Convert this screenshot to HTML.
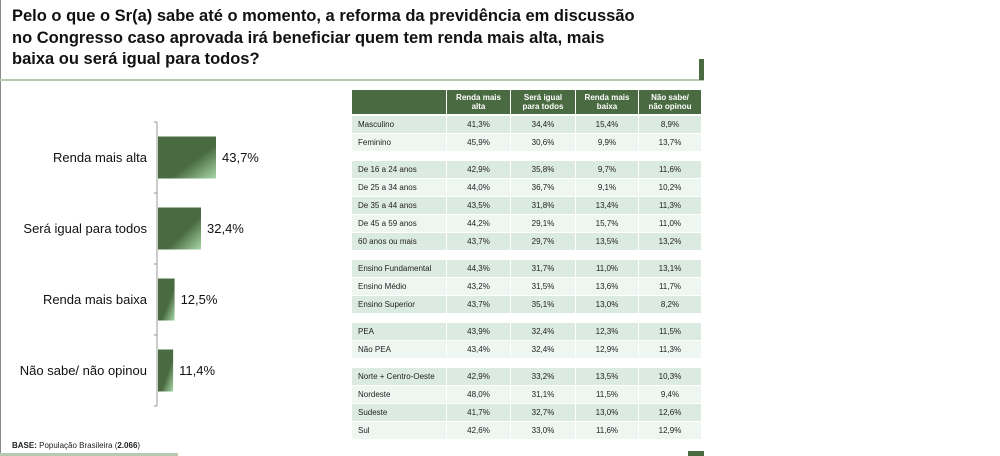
<!DOCTYPE html>
<html><head><meta charset="utf-8"><style>
body{margin:0;width:1000px;height:456px;background:#fff;overflow:hidden;font-family:"Liberation Sans",sans-serif;position:relative}
.title{position:absolute;left:12px;top:6px;font-size:16.5px;font-weight:bold;line-height:21.5px;color:#111;width:690px}
</style></head><body>
<div style="position:absolute;left:0;top:0;width:1px;height:456px;background:#888"></div>
<div class="title">Pelo o que o Sr(a) sabe até o momento, a reforma da previdência em discussão<br>no Congresso caso aprovada irá beneficiar quem tem renda mais alta, mais<br>baixa ou será igual para todos?</div>
<div style="position:absolute;left:0;top:79px;width:704px;height:2px;background:#b7c9b0"></div>
<div style="position:absolute;left:699px;top:59px;width:5px;height:21px;background:#4a6b41"></div>
<div style="position:absolute;left:0;top:453px;width:178px;height:3px;background:#b7c9b0"></div>
<div style="position:absolute;left:688px;top:451px;width:16px;height:5px;background:#4a6b41"></div>
<svg id="bars" width="360" height="440" style="position:absolute;left:0;top:0">
<defs><linearGradient id="g" x1="0" y1="0" x2="1" y2="1"><stop offset="0.6" stop-color="#4a6b41"/><stop offset="1" stop-color="#a8d8a8"/></linearGradient></defs>
</svg>
<div style="position:absolute;left:12px;top:441px;font-size:8px;color:#222"><b>BASE:</b> População Brasileira (<b>2.066</b>)</div>
<div id="tbl"></div>
<script>
const categories=["Renda mais alta","Será igual para todos","Renda mais baixa","Não sabe/ não opinou"];
const values=[43.7,32.4,12.5,11.4];
const valueLabels=["43,7%","32,4%","12,5%","11,4%"];
const NS="http://www.w3.org/2000/svg";
const svg=document.getElementById('bars');
const x0=158,top0=122,band=71,scale=58/43.7;
const xs=v=>x0+v*scale;
function mk(t,a){const e=document.createElementNS(NS,t);for(const k in a)e.setAttribute(k,a[k]);svg.appendChild(e);return e;}
const ax=mk('line',{x1:x0-1,y1:top0,x2:x0-1,y2:top0+band*categories.length,stroke:'#999','stroke-width':1});


for(let i=0;i<=categories.length;i++){const t=mk('line',{x1:x0-4,x2:x0-1,y1:top0+band*i,y2:top0+band*i,stroke:'#999'});

}
categories.forEach((c,i)=>{
 const yc=top0+band*i+band/2;
 const r=mk('rect',{x:x0,y:yc-21,width:xs(values[i])-x0,height:42,fill:'url(#g)'});
 
 
 const l=mk('text',{x:147,y:yc+4.5,'text-anchor':'end','font-size':13,fill:'#111'});l.textContent=c;
 
 
 const v=mk('text',{x:xs(values[i])+6,y:yc+4.5,'font-size':13,fill:'#111'});v.textContent=valueLabels[i];
 
 
});
const headers=["Renda mais alta","Será igual para todos","Renda mais baixa","Não sabe/ não opinou"];
const groups=[
 [["Masculino","41,3%","34,4%","15,4%","8,9%"],["Feminino","45,9%","30,6%","9,9%","13,7%"]],
 [["De 16 a 24 anos","42,9%","35,8%","9,7%","11,6%"],["De 25 a 34 anos","44,0%","36,7%","9,1%","10,2%"],["De 35 a 44 anos","43,5%","31,8%","13,4%","11,3%"],["De 45 a 59 anos","44,2%","29,1%","15,7%","11,0%"],["60 anos ou mais","43,7%","29,7%","13,5%","13,2%"]],
 [["Ensino Fundamental","44,3%","31,7%","11,0%","13,1%"],["Ensino Médio","43,2%","31,5%","13,6%","11,7%"],["Ensino Superior","43,7%","35,1%","13,0%","8,2%"]],
 [["PEA","43,9%","32,4%","12,3%","11,5%"],["Não PEA","43,4%","32,4%","12,9%","11,3%"]],
 [["Norte + Centro-Oeste","42,9%","33,2%","13,5%","10,3%"],["Nordeste","48,0%","31,1%","11,5%","9,4%"],["Sudeste","41,7%","32,7%","13,0%","12,6%"],["Sul","42,6%","33,0%","11,6%","12,9%"]]
];
const tbl=document.getElementById('tbl');
const colX=[352,447,511,576,639],colW=[94,63,64,62,62];
function cell(x,y,w,h,bg,txt,opts){const d=document.createElement('div');
 d.style.cssText=`position:absolute;left:${x}px;top:${y}px;width:${w}px;height:${h}px;background:${bg};font-size:8px;display:flex;align-items:center;${opts}`;
 d.textContent=txt;tbl.appendChild(d);return d;}
cell(352,90,94,24,'#4a6b41','','');
headers.forEach((h,i)=>{const d=cell(colX[i+1],90,colW[i+1],24,'#4a6b41',h,'justify-content:center;text-align:center;color:#fff;font-weight:bold;line-height:9px;padding:0 6px;box-sizing:border-box');
 
 });
let y=116;
groups.forEach(g=>{g.forEach((row,ri)=>{
 const bg=ri%2==0?'#dcebe1':'#eef6f1';
 row.forEach((t,ci)=>{const d=cell(colX[ci],y,colW[ci],17,bg,t,ci==0?'padding-left:6px;box-sizing:border-box;color:#222':'justify-content:center;color:#222');
  
  });
 y+=18;});y+=9;});
</script>
</body></html>
